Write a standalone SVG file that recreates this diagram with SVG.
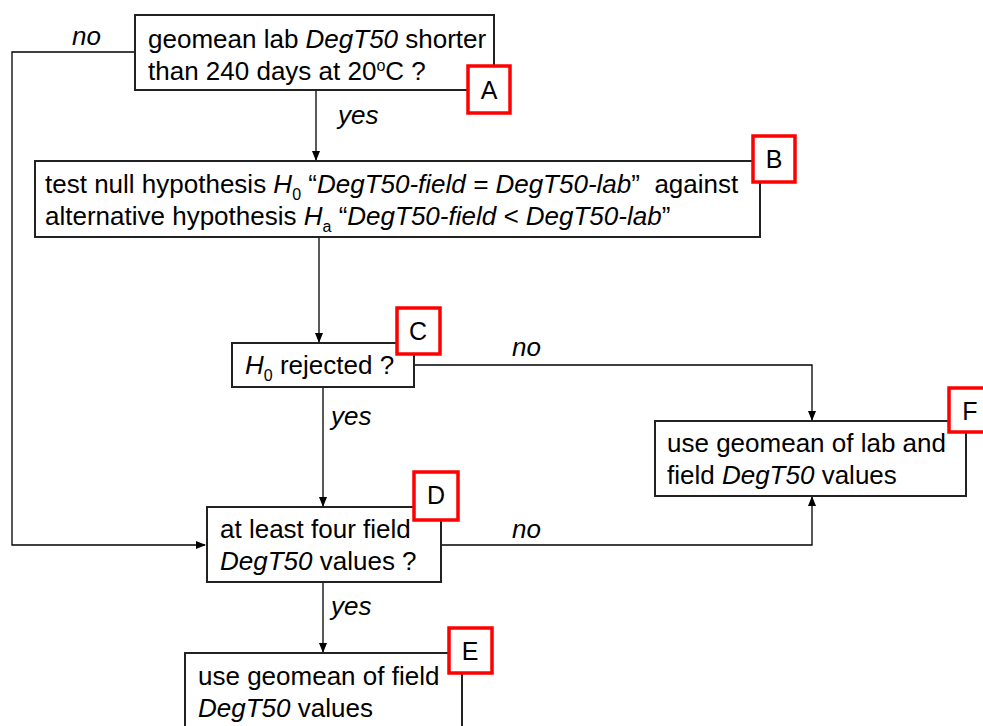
<svg xmlns="http://www.w3.org/2000/svg" width="983" height="726" viewBox="0 0 983 726">
<defs>
<marker id="ah" markerWidth="10" markerHeight="8" refX="9" refY="4" orient="auto" markerUnits="userSpaceOnUse">
<path d="M0,0 L10,4 L0,8 Z" fill="#000"/>
</marker>
<style>
.box{fill:#fff;stroke:#222;stroke-width:2}
.tag{fill:#fff;stroke:#ff0000;stroke-width:3.5}
.t{font-family:"Liberation Sans",Arial,sans-serif;font-size:26px;fill:#000}
.i{font-style:italic}
.tg{font-family:"Liberation Sans",Arial,sans-serif;font-size:25px;fill:#000;text-anchor:middle}
.c{fill:none;stroke:#000;stroke-width:1.3}
.sub{font-size:16px}
</style>
</defs>
<rect width="983" height="726" fill="#fff"/>
<g id="connectors">
<path class="c" d="M135,52 H12 V545 H205" marker-end="url(#ah)"/>
<path class="c" d="M316,90 V160" marker-end="url(#ah)"/>
<path class="c" d="M319,237 V342" marker-end="url(#ah)"/>
<path class="c" d="M414,365 H812 V420" marker-end="url(#ah)"/>
<path class="c" d="M323,387 V506" marker-end="url(#ah)"/>
<path class="c" d="M441,545 H812 V497" marker-end="url(#ah)"/>
<path class="c" d="M323,582 V652" marker-end="url(#ah)"/>
<text class="t i" x="72" y="45">no</text>
<text class="t i" x="338" y="124">yes</text>
<text class="t i" x="512" y="356">no</text>
<text class="t i" x="331" y="425">yes</text>
<text class="t i" x="512" y="538">no</text>
<text class="t i" x="331" y="615">yes</text>
</g>
<g id="nodeA">
<rect class="box" x="135" y="15" width="359" height="75"/>
<text class="t" x="148" y="48">geomean lab <tspan class="i">DegT50</tspan> shorter</text>
<text class="t" x="148" y="80">than 240 days at 20<tspan class="sub" dy="-9">o</tspan><tspan dy="9">C ?</tspan></text>
<rect class="tag" x="468" y="66" width="42" height="47"/>
<text class="tg" x="489" y="99">A</text>
</g>
<g id="nodeB">
<rect class="box" x="35" y="161" width="725" height="76"/>
<text class="t" x="45" y="193">test null hypothesis <tspan class="i">H</tspan><tspan class="sub" dy="7">0</tspan><tspan dy="-7"> “</tspan><tspan class="i">DegT50-field = DegT50-lab</tspan>”&#160; against</text>
<text class="t" x="45" y="225">alternative hypothesis <tspan class="i">H</tspan><tspan class="sub" dy="7">a</tspan><tspan dy="-7"> “</tspan><tspan class="i">DegT50-field &lt; DegT50-lab</tspan>”</text>
<rect class="tag" x="753" y="136" width="42" height="46"/>
<text class="tg" x="774" y="168">B</text>
</g>
<g id="nodeC">
<rect class="box" x="232" y="343" width="182" height="44"/>
<text class="t" x="245" y="374"><tspan class="i">H</tspan><tspan class="sub" dy="7">0</tspan><tspan dy="-7"> rejected ?</tspan></text>
<rect class="tag" x="397" y="308" width="43" height="46"/>
<text class="tg" x="418" y="340">C</text>
</g>
<g id="nodeF">
<rect class="box" x="655" y="421" width="311" height="75"/>
<text class="t" x="667" y="452">use geomean of lab and</text>
<text class="t" x="667" y="484">field <tspan class="i">DegT50</tspan> values</text>
<rect class="tag" x="949" y="388" width="42" height="44"/>
<text class="tg" x="970" y="420">F</text>
</g>
<g id="nodeD">
<rect class="box" x="207" y="507" width="234" height="75"/>
<text class="t" x="220" y="538">at least four field</text>
<text class="t" x="220" y="570"><tspan class="i">DegT50</tspan> values ?</text>
<rect class="tag" x="414" y="472" width="44" height="48"/>
<text class="tg" x="436" y="504">D</text>
</g>
<g id="nodeE">
<rect class="box" x="185" y="653" width="277" height="90"/>
<text class="t" x="198" y="685">use geomean of field</text>
<text class="t" x="198" y="717"><tspan class="i">DegT50</tspan> values</text>
<rect class="tag" x="449" y="628" width="43" height="45"/>
<text class="tg" x="470" y="660">E</text>
</g>
</svg>
